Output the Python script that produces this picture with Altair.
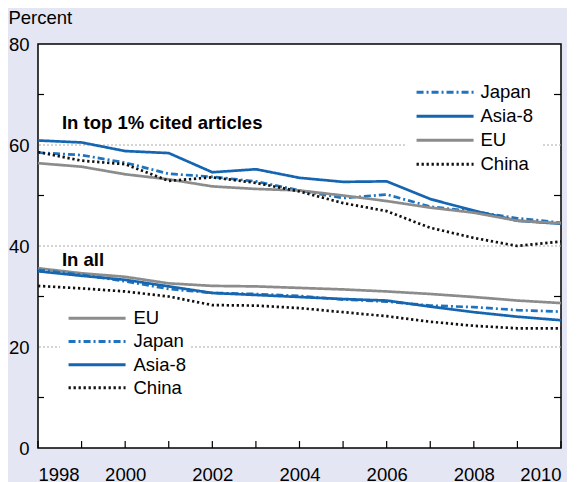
import altair as alt
import pandas as pd

years = list(range(1998, 2011))

# In top 1% cited articles
top_japan = [58.5, 58.0, 56.5, 54.3, 53.7, 52.8, 51.0, 49.5, 50.2, 47.8, 46.8, 45.5, 44.6]
top_asia8 = [60.9, 60.5, 58.8, 58.4, 54.6, 55.2, 53.5, 52.7, 52.8, 49.3, 47.0, 45.0, 44.4]
top_eu = [56.4, 55.7, 54.2, 53.2, 51.8, 51.3, 51.0, 50.0, 48.9, 47.6, 46.6, 45.0, 44.5]
top_china = [58.6, 56.9, 56.2, 52.9, 53.6, 52.5, 50.8, 48.5, 46.9, 43.6, 41.6, 40.0, 40.9]

# In all articles
all_eu = [35.6, 34.6, 33.9, 32.6, 32.1, 32.0, 31.7, 31.4, 31.0, 30.5, 29.9, 29.2, 28.7]
all_japan = [35.3, 34.3, 33.0, 31.5, 30.7, 30.5, 30.1, 29.4, 29.0, 28.2, 27.9, 27.3, 27.0]
all_asia8 = [35.0, 34.1, 33.3, 32.0, 30.7, 30.3, 29.9, 29.5, 29.2, 28.0, 26.9, 26.0, 25.3]
all_china = [32.1, 31.6, 31.0, 30.0, 28.3, 28.2, 27.7, 26.9, 26.1, 25.0, 24.2, 23.7, 23.7]

top_order = ["Japan", "Asia-8", "EU", "China"]
all_order = ["EU", "Japan", "Asia-8", "China"]

x_labels = [1998, 2000, 2002, 2004, 2006, 2008, 2010]
y_labels = [0, 20, 40, 60, 80]
grid_values = [20, 40, 60]
side_ticks = [10, 30, 50, 70]

FONT = "Liberation Sans"
FS = 18.5
colors = {"Japan": "#1f74bd", "Asia-8": "#1565b0", "EU": "#8c8c8c", "China": "#111111"}
dashes = {"Japan": [7, 3, 2, 3], "Asia-8": [1, 0], "EU": [1, 0], "China": [2.3, 2.7]}

W, H = 523, 404


def long(series_dict):
    rows = []
    for name, vals in series_dict.items():
        for y, v in zip(years, vals):
            rows.append({"year": y, "value": v, "series": name})
    return pd.DataFrame(rows)


df_top = long({"Japan": top_japan, "Asia-8": top_asia8, "EU": top_eu, "China": top_china})
df_all = long({"EU": all_eu, "Japan": all_japan, "Asia-8": all_asia8, "China": all_china})

xscale = alt.Scale(domain=[1998, 2010], nice=False, zero=False)
yscale = alt.Scale(domain=[0, 80], nice=False)
xax = alt.Axis(values=x_labels, format="d", grid=False, ticks=False, tickSize=0, domain=False,
               title=None, labelFontSize=FS, labelFont=FONT, labelColor="black", labelPadding=17)
yax = alt.Axis(values=y_labels, grid=False, ticks=False, tickSize=0, domain=False, title=None,
               labelFontSize=FS, labelFont=FONT, labelColor="black", labelPadding=9)


def legend(order, lx, ly, pad, rowpad, loff):
    return alt.Legend(title=None, orient="none", legendX=lx, legendY=ly,
                      symbolType="M-1,0H9", symbolSize=130, symbolStrokeWidth=3,
                      labelFontSize=FS, labelFont=FONT, labelColor="black",
                      labelOffset=loff, rowPadding=rowpad, padding=pad, fillColor="white",
                      values=order)


def lines(df, order, leg):
    return alt.Chart(df).mark_line(strokeWidth=2.7).encode(
        x=alt.X("year:Q", scale=xscale, axis=xax),
        y=alt.Y("value:Q", scale=yscale, axis=yax),
        color=alt.Color("series:N", scale=alt.Scale(domain=order, range=[colors[s] for s in order]),
                        legend=leg, sort=order),
        strokeDash=alt.StrokeDash("series:N",
                                  scale=alt.Scale(domain=order, range=[dashes[s] for s in order]),
                                  legend=leg, sort=order),
        detail="series:N",
    )


leg_top = legend(top_order, 367, 31, 8, 5, 49)
leg_all = legend(all_order, 22, 260, 5, 4.2, 50)

grid = alt.Chart(pd.DataFrame({"v": grid_values})).mark_rule(
    color="#aaaaaa", strokeDash=[2, 2], strokeWidth=1
).encode(y=alt.Y("v:Q", scale=yscale, axis=yax))

xticks = alt.Chart(pd.DataFrame({"year": years})).mark_rule(color="black", strokeWidth=1.2).encode(
    x=alt.X("year:Q", scale=xscale, axis=xax), y=alt.value(H), y2=alt.value(H - 7)
)
lticks = alt.Chart(pd.DataFrame({"v": side_ticks})).mark_rule(color="black", strokeWidth=1.2).encode(
    y=alt.Y("v:Q", scale=yscale, axis=yax), x=alt.value(0), x2=alt.value(6)
)
rticks = alt.Chart(pd.DataFrame({"v": side_ticks})).mark_rule(color="black", strokeWidth=1.2).encode(
    y=alt.Y("v:Q", scale=yscale, axis=yax), x=alt.value(W), x2=alt.value(W - 7)
)

ann = alt.Chart(pd.DataFrame({
    "year": [1998.55, 1998.55],
    "value": [63.2, 36.0],
    "label": ["In top 1% cited articles", "In all"],
})).mark_text(align="left", baseline="alphabetic", font=FONT, fontSize=FS, fontWeight="bold",
              color="black").encode(
    x=alt.X("year:Q", scale=xscale, axis=xax),
    y=alt.Y("value:Q", scale=yscale, axis=yax),
    text="label:N",
)

top_lines = lines(df_top, top_order, leg_top)
all_lines = lines(df_all, all_order, leg_all)

chart = alt.layer(grid, xticks, lticks, rticks, all_lines, top_lines, ann).resolve_scale(
    color="independent", strokeDash="independent"
).properties(
    width=W, height=H, background="#E4E6F3", padding=0,
    title=alt.TitleParams("Percent", anchor="start", frame="bounds", fontSize=FS, font=FONT,
                          fontWeight="normal", color="black", offset=8),
).configure_view(stroke="black", strokeWidth=1.5, fill="white")

chart.save("out.html", embed_options={"renderer": "svg", "actions": False})
